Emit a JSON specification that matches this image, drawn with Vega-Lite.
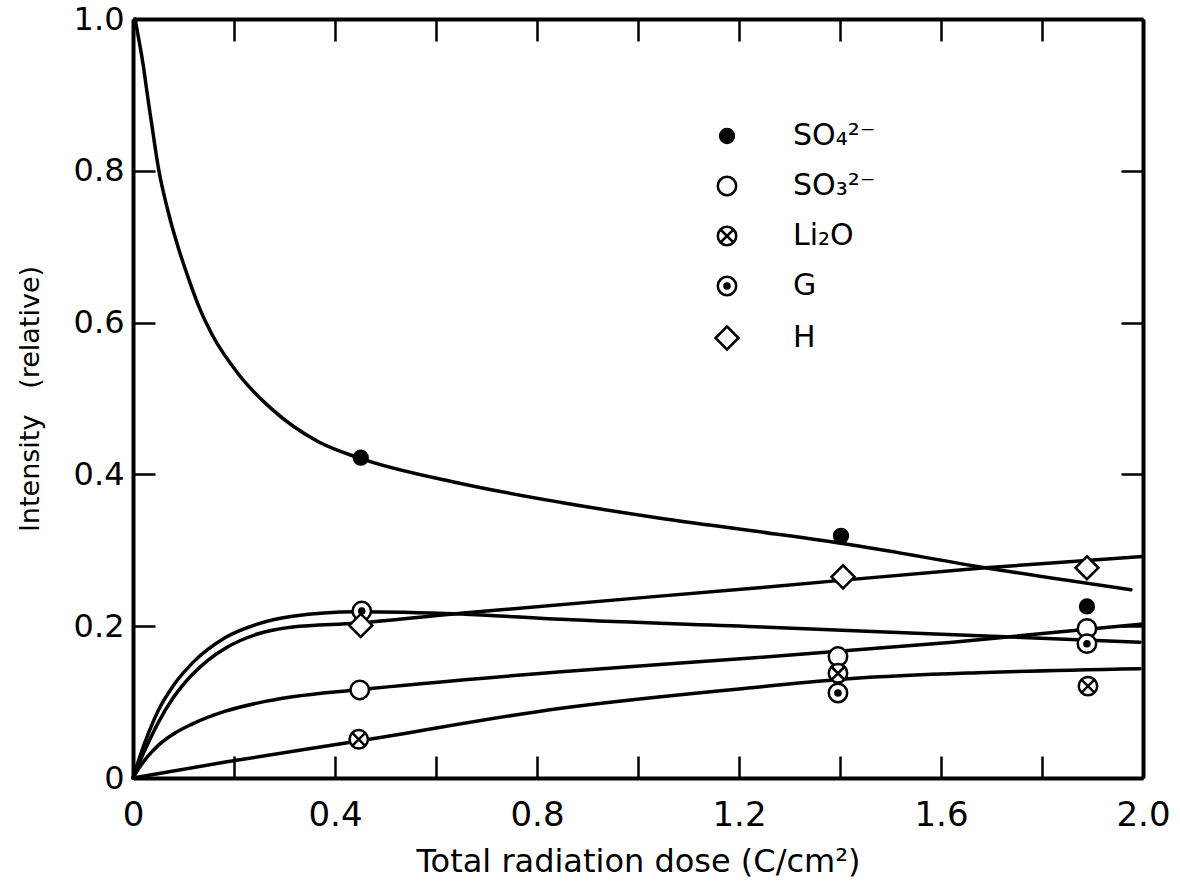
{
  "$schema": "https://vega.github.io/schema/vega-lite/v6.json",
  "width": 1010,
  "height": 759,
  "autosize": {"type": "none"},
  "padding": {"left": 133, "top": 19, "right": 37, "bottom": 110},
  "background": "white",
  "config": {
    "view": {"stroke": null},
    "font": "DejaVu Sans",
    "axis": {
      "grid": false,
      "domainColor": "black",
      "domainWidth": 4,
      "tickColor": "black",
      "tickWidth": 2.5,
      "labelColor": "black",
      "titleColor": "black",
      "titleFontWeight": "normal"
    },
    "legend": {
      "orient": "none",
      "legendX": 579,
      "legendY": 102,
      "title": null,
      "symbolSize": 529,
      "symbolStrokeWidth": 2.5,
      "symbolStrokeColor": "black",
      "labelFontSize": 30,
      "labelColor": "black",
      "labelOffset": 51,
      "rowPadding": 20,
      "padding": 0
    }
  },
  "datasets": {
    "curves": [
      {"curve": "SO4", "dose": 0.004, "intensity": 1.0},
      {"curve": "SO4", "dose": 0.02, "intensity": 0.94},
      {"curve": "SO4", "dose": 0.03, "intensity": 0.893},
      {"curve": "SO4", "dose": 0.04, "intensity": 0.848},
      {"curve": "SO4", "dose": 0.05, "intensity": 0.805},
      {"curve": "SO4", "dose": 0.07, "intensity": 0.745},
      {"curve": "SO4", "dose": 0.09, "intensity": 0.698},
      {"curve": "SO4", "dose": 0.11, "intensity": 0.658},
      {"curve": "SO4", "dose": 0.133, "intensity": 0.617},
      {"curve": "SO4", "dose": 0.156, "intensity": 0.585},
      {"curve": "SO4", "dose": 0.209, "intensity": 0.532},
      {"curve": "SO4", "dose": 0.275, "intensity": 0.486},
      {"curve": "SO4", "dose": 0.367, "intensity": 0.443},
      {"curve": "SO4", "dose": 0.446, "intensity": 0.422},
      {"curve": "SO4", "dose": 0.649, "intensity": 0.388},
      {"curve": "SO4", "dose": 0.848, "intensity": 0.363},
      {"curve": "SO4", "dose": 1.047, "intensity": 0.342},
      {"curve": "SO4", "dose": 1.245, "intensity": 0.324},
      {"curve": "SO4", "dose": 1.424, "intensity": 0.307},
      {"curve": "SO4", "dose": 1.688, "intensity": 0.277},
      {"curve": "SO4", "dose": 1.976, "intensity": 0.248},

      {"curve": "SO3", "dose": 0.0, "intensity": 0.0},
      {"curve": "SO3", "dose": 0.015, "intensity": 0.016},
      {"curve": "SO3", "dose": 0.03, "intensity": 0.029},
      {"curve": "SO3", "dose": 0.05, "intensity": 0.043},
      {"curve": "SO3", "dose": 0.08, "intensity": 0.058},
      {"curve": "SO3", "dose": 0.117, "intensity": 0.071},
      {"curve": "SO3", "dose": 0.183, "intensity": 0.088},
      {"curve": "SO3", "dose": 0.248, "intensity": 0.099},
      {"curve": "SO3", "dose": 0.316, "intensity": 0.107},
      {"curve": "SO3", "dose": 0.441, "intensity": 0.116},
      {"curve": "SO3", "dose": 0.848, "intensity": 0.140},
      {"curve": "SO3", "dose": 1.245, "intensity": 0.159},
      {"curve": "SO3", "dose": 1.623, "intensity": 0.179},
      {"curve": "SO3", "dose": 2.0, "intensity": 0.203},

      {"curve": "Li2O", "dose": 0.0, "intensity": 0.0},
      {"curve": "Li2O", "dose": 0.183, "intensity": 0.021},
      {"curve": "Li2O", "dose": 0.45, "intensity": 0.049},
      {"curve": "Li2O", "dose": 0.848, "intensity": 0.092},
      {"curve": "Li2O", "dose": 1.225, "intensity": 0.119},
      {"curve": "Li2O", "dose": 1.424, "intensity": 0.131},
      {"curve": "Li2O", "dose": 1.688, "intensity": 0.139},
      {"curve": "Li2O", "dose": 1.994, "intensity": 0.144},

      {"curve": "G", "dose": 0.0, "intensity": 0.0},
      {"curve": "G", "dose": 0.015, "intensity": 0.031},
      {"curve": "G", "dose": 0.03, "intensity": 0.058},
      {"curve": "G", "dose": 0.05, "intensity": 0.089},
      {"curve": "G", "dose": 0.08, "intensity": 0.122},
      {"curve": "G", "dose": 0.117, "intensity": 0.151},
      {"curve": "G", "dose": 0.183, "intensity": 0.185},
      {"curve": "G", "dose": 0.248, "intensity": 0.203},
      {"curve": "G", "dose": 0.316, "intensity": 0.213},
      {"curve": "G", "dose": 0.441, "intensity": 0.219},
      {"curve": "G", "dose": 0.649, "intensity": 0.216},
      {"curve": "G", "dose": 0.848, "intensity": 0.209},
      {"curve": "G", "dose": 1.245, "intensity": 0.199},
      {"curve": "G", "dose": 1.688, "intensity": 0.187},
      {"curve": "G", "dose": 1.994, "intensity": 0.179},

      {"curve": "H", "dose": 0.0, "intensity": 0.0},
      {"curve": "H", "dose": 0.015, "intensity": 0.024},
      {"curve": "H", "dose": 0.03, "intensity": 0.046},
      {"curve": "H", "dose": 0.05, "intensity": 0.073},
      {"curve": "H", "dose": 0.08, "intensity": 0.106},
      {"curve": "H", "dose": 0.117, "intensity": 0.136},
      {"curve": "H", "dose": 0.15, "intensity": 0.156},
      {"curve": "H", "dose": 0.183, "intensity": 0.171},
      {"curve": "H", "dose": 0.248, "intensity": 0.190},
      {"curve": "H", "dose": 0.316, "intensity": 0.199},
      {"curve": "H", "dose": 0.441, "intensity": 0.204},
      {"curve": "H", "dose": 0.649, "intensity": 0.217},
      {"curve": "H", "dose": 1.245, "intensity": 0.251},
      {"curve": "H", "dose": 1.688, "intensity": 0.277},
      {"curve": "H", "dose": 2.0, "intensity": 0.292}
    ],
    "points": [
      {"species": "SO₄²⁻", "dose": 0.451, "intensity": 0.422},
      {"species": "SO₄²⁻", "dose": 1.402, "intensity": 0.319},
      {"species": "SO₄²⁻", "dose": 1.889, "intensity": 0.226},
      {"species": "SO₃²⁻", "dose": 0.449, "intensity": 0.116},
      {"species": "SO₃²⁻", "dose": 1.396, "intensity": 0.160},
      {"species": "SO₃²⁻", "dose": 1.889, "intensity": 0.197},
      {"species": "Li₂O", "dose": 0.447, "intensity": 0.051},
      {"species": "Li₂O", "dose": 1.396, "intensity": 0.138},
      {"species": "Li₂O", "dose": 1.891, "intensity": 0.121},
      {"species": "G", "dose": 0.453, "intensity": 0.220},
      {"species": "G", "dose": 1.396, "intensity": 0.112},
      {"species": "G", "dose": 1.889, "intensity": 0.177},
      {"species": "H", "dose": 0.451, "intensity": 0.201},
      {"species": "H", "dose": 1.406, "intensity": 0.265},
      {"species": "H", "dose": 1.889, "intensity": 0.277}
    ]
  },
  "resolve": {"axis": {"x": "independent", "y": "independent"}},
  "layer": [
    {
      "data": {"name": "curves"},
      "mark": {"type": "line", "interpolate": "monotone", "color": "black", "strokeWidth": 3.5, "strokeCap": "round"},
      "encoding": {
        "x": {
          "field": "dose", "type": "quantitative",
          "scale": {"domain": [0, 2], "nice": false, "zero": false},
          "axis": {
            "orient": "bottom",
            "values": [0, 0.2, 0.4, 0.6, 0.8, 1.0, 1.2, 1.4, 1.6, 1.8, 2.0],
            "labelExpr": "round(datum.value*10) % 4 == 0 ? (datum.value == 0 ? '0' : format(datum.value, '.1f')) : ''",
            "tickSize": -22,
            "labelPadding": 42,
            "labelFontSize": 34,
            "labelFlush": false,
            "title": "Total radiation dose (C/cm²)",
            "titleFontSize": 32,
            "titlePadding": 14
          }
        },
        "y": {
          "field": "intensity", "type": "quantitative",
          "scale": {"domain": [0, 1], "nice": false},
          "axis": {
            "orient": "left",
            "values": [0, 0.2, 0.4, 0.6, 0.8, 1.0],
            "labelExpr": "datum.value == 0 ? '0' : format(datum.value, '.1f')",
            "tickSize": -22,
            "labelPadding": 31,
            "labelFontSize": 32,
            "labelFlush": false,
            "title": "Intensity\u00a0\u00a0\u00a0(relative)",
            "titleFontSize": 27,
            "titlePadding": 29
          }
        },
        "detail": {"field": "curve"}
      }
    },
    {
      "data": {"name": "points"},
      "mark": {"type": "point", "filled": true, "opacity": 1, "strokeWidth": 2.5, "size": 529},
      "encoding": {
        "x": {
          "field": "dose", "type": "quantitative",
          "axis": {
            "orient": "top",
            "values": [0, 0.2, 0.4, 0.6, 0.8, 1.0, 1.2, 1.4, 1.6, 1.8, 2.0],
            "labels": false,
            "tickSize": -22,
            "title": null
          }
        },
        "y": {
          "field": "intensity", "type": "quantitative",
          "axis": {
            "orient": "right",
            "values": [0, 0.2, 0.4, 0.6, 0.8, 1.0],
            "labels": false,
            "tickSize": -22,
            "title": null
          }
        },
        "shape": {
          "field": "species", "type": "nominal",
          "scale": {
            "domain": ["SO₄²⁻", "SO₃²⁻", "Li₂O", "G", "H"],
            "range": [
              "M -0.6 0 A 0.6 0.6 0 1 0 0.6 0 A 0.6 0.6 0 1 0 -0.6 0 Z",
              "M -0.8 0 A 0.8 0.8 0 1 0 0.8 0 A 0.8 0.8 0 1 0 -0.8 0 Z",
              "M -0.8 0 A 0.8 0.8 0 1 0 0.8 0 A 0.8 0.8 0 1 0 -0.8 0 Z M -0.5 -0.5 L 0.5 0.5 M -0.5 0.5 L 0.5 -0.5",
              "M -0.8 0 A 0.8 0.8 0 1 0 0.8 0 A 0.8 0.8 0 1 0 -0.8 0 Z M -0.22 0 A 0.22 0.22 0 1 0 0.22 0 A 0.22 0.22 0 1 0 -0.22 0 Z M -0.1 0 A 0.1 0.1 0 1 0 0.1 0 A 0.1 0.1 0 1 0 -0.1 0 Z",
              "M 0 -1 L 1 0 L 0 1 L -1 0 Z"
            ]
          }
        },
        "fill": {
          "field": "species", "type": "nominal",
          "scale": {
            "domain": ["SO₄²⁻", "SO₃²⁻", "Li₂O", "G", "H"],
            "range": ["black", "white", "white", "white", "white"]
          }
        },
        "stroke": {
          "field": "species", "type": "nominal",
          "scale": {
            "domain": ["SO₄²⁻", "SO₃²⁻", "Li₂O", "G", "H"],
            "range": ["black", "black", "black", "black", "black"]
          }
        }
      }
    }
  ]
}
